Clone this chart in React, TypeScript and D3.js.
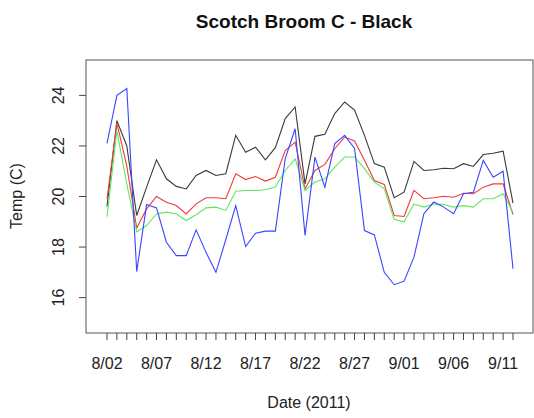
import React from "react";
import * as d3 from "d3";

const title = "Scotch Broom C - Black";
const xLabel = "Date (2011)";
const yLabel = "Temp (C)";

const startDate = new Date(2011, 7, 2);
const endDate = new Date(2011, 8, 12);

const blackSeries = [
  19.6, 23.0, 22.0, 19.25, 20.37, 21.45, 20.7, 20.4, 20.3, 20.83, 21.03, 20.83,
  20.9, 22.42, 21.75, 21.95, 21.45, 21.93, 23.08, 23.54, 20.5, 22.38, 22.46,
  23.28, 23.74, 23.42, 22.42, 21.3, 21.16, 19.95, 20.17, 21.39, 21.03, 21.06,
  21.12, 21.1, 21.3, 21.19, 21.66, 21.71, 21.79, 19.74,
];
const redSeries = [
  19.9, 22.9, 21.2, 18.75, 19.51, 20.0, 19.77, 19.64, 19.31, 19.71, 19.95, 19.95,
  19.91, 20.9, 20.67, 20.79, 20.61, 20.76, 21.82, 22.15, 20.3, 21.03, 21.27,
  21.89, 22.35, 22.2, 21.43, 20.63, 20.48, 19.25, 19.21, 20.24, 19.91, 19.95,
  20.01, 19.97, 20.13, 20.11, 20.37, 20.5, 20.5, 19.28,
];
const greenSeries = [
  19.2, 22.6, 20.5, 18.6, 18.85, 19.31, 19.38, 19.31, 19.05, 19.28, 19.55, 19.58,
  19.45, 20.21, 20.24, 20.24, 20.27, 20.37, 21.03, 21.49, 20.24, 20.57, 20.7,
  21.16, 21.56, 21.56, 21.1, 20.57, 20.3, 19.1, 19.0, 19.7, 19.58, 19.71, 19.68,
  19.58, 19.64, 19.58, 19.91, 19.91, 20.11, 19.38,
];
const blueSeries = [
  22.1, 24.0, 24.27, 17.03, 19.68, 19.55, 18.19, 17.66, 17.66, 18.68, 17.79, 17.0,
  18.3, 19.64, 18.02, 18.55, 18.63, 18.63, 21.5, 22.68, 18.46, 21.56, 20.37,
  22.09, 22.42, 21.9, 18.65, 18.48, 17.0, 16.51, 16.65, 17.6, 19.32, 19.78,
  19.58, 19.32, 20.11, 20.17, 21.43, 20.76, 21.0, 17.14,
];

const yTicks = [16, 18, 20, 22, 24];
const xTickLabels = ["8/02", "8/07", "8/12", "8/17", "8/22", "8/27", "9/01", "9/06", "9/11"];

const seriesList = [
  { name: "black", values: blackSeries, color: "#3a3a3a" },
  { name: "red", values: redSeries, color: "#f03a3a" },
  { name: "green", values: greenSeries, color: "#5ee85e" },
  { name: "blue", values: blueSeries, color: "#3a45ff" },
];

export default function App() {
  const W = 534;
  const H = 418;
  const box = { left: 86, right: 533, top: 60, bottom: 333 };
  const font = "'Liberation Sans', Arial, sans-serif";

  const dates = d3.timeDay.range(startDate, d3.timeDay.offset(endDate, 1));
  const x = d3.scaleTime().domain([startDate, endDate]).range([107, 513]);
  const y = d3.scaleLinear().domain([14.6, 25.4]).range([box.bottom, box.top]);

  const line = d3
    .line<number>()
    .x((_, i) => x(dates[i]))
    .y((v) => y(v));

  const labelDates = xTickLabels.map((_, i) => dates[i * 5]);

  return (
    <svg
      width={W}
      height={H}
      style={{ position: "absolute", left: 0, top: 0, background: "#fff" }}
      fontFamily={font}
    >
      <rect width={W} height={H} fill="#fff" />
      <text x={304} y={28} textAnchor="middle" fontSize={19} fontWeight="bold" fill="#111">
        {title}
      </text>
      <rect
        x={box.left}
        y={box.top}
        width={box.right - box.left}
        height={box.bottom - box.top}
        fill="none"
        stroke="#555"
        strokeWidth={1}
      />
      {seriesList.map((s) => (
        <path key={s.name} d={line(s.values) || ""} fill="none" stroke={s.color} strokeWidth={1.1} />
      ))}
      {dates.map((d, i) => (
        <line
          key={i}
          x1={x(d)}
          x2={x(d)}
          y1={box.bottom}
          y2={box.bottom + 7}
          stroke="#444"
          strokeWidth={1}
        />
      ))}
      {labelDates.map((d, i) => (
        <text key={i} x={x(d)} y={369} textAnchor="middle" fontSize={16} fill="#222">
          {xTickLabels[i]}
        </text>
      ))}
      {yTicks.map((t) => (
        <g key={t}>
          <line x1={box.left - 7} x2={box.left} y1={y(t)} y2={y(t)} stroke="#444" strokeWidth={1} />
          <text
            transform={`translate(64,${y(t)}) rotate(-90)`}
            textAnchor="middle"
            fontSize={16}
            fill="#222"
          >
            {t}
          </text>
        </g>
      ))}
      <text x={309} y={408} textAnchor="middle" fontSize={16} fill="#222">
        {xLabel}
      </text>
      <text transform={`translate(22,196) rotate(-90)`} textAnchor="middle" fontSize={16} fill="#222">
        {yLabel}
      </text>
    </svg>
  );
}
